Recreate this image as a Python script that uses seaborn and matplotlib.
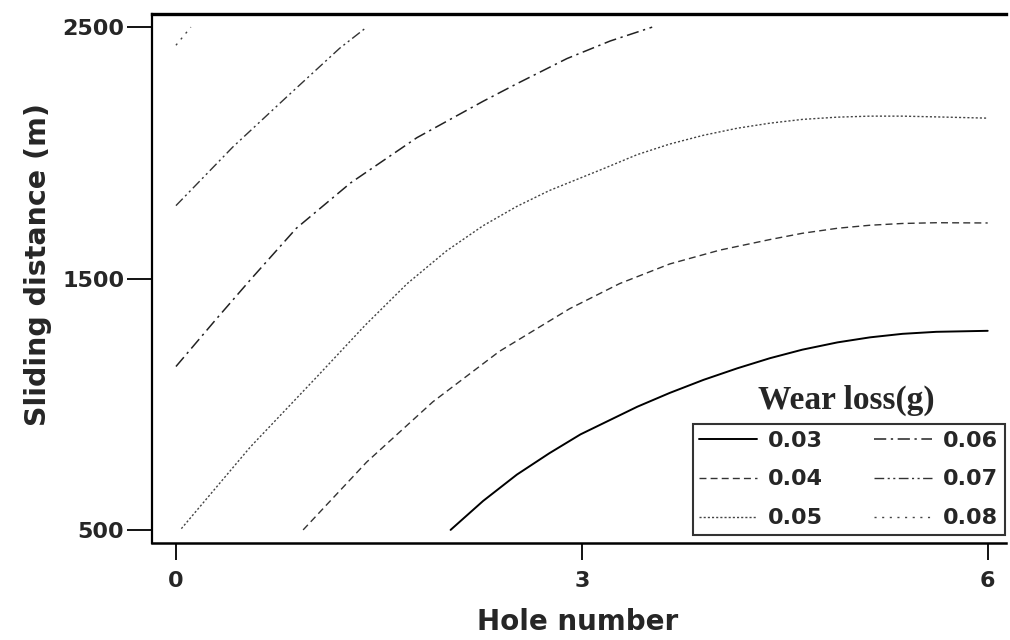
import matplotlib
matplotlib.use("Agg")
import matplotlib.pyplot as plt
import numpy as np
import pandas as pd
import seaborn as sns

# ---- data (contours of wear loss) ----
levels = ["0.03", "0.04", "0.05", "0.06", "0.07", "0.08"]

hole_003 = [2.03, 2.27, 2.52, 2.76, 2.99, 3.41, 3.65, 3.90, 4.15, 4.39, 4.63, 4.89, 5.13, 5.37, 5.62, 6.00]
dist_003 = [500, 615, 720, 805, 880, 990, 1045, 1097, 1143, 1183, 1217, 1246, 1266, 1280, 1288, 1292]

hole_004 = [0.94, 1.41, 1.90, 2.39, 2.91, 3.28, 3.65, 4.02, 4.39, 4.63, 4.89, 5.13, 5.37, 5.62, 6.00]
dist_004 = [500, 770, 1010, 1210, 1380, 1480, 1558, 1613, 1655, 1680, 1700, 1712, 1719, 1722, 1721]

hole_005 = [0.04, 0.55, 1.04, 1.40, 1.71, 2.00, 2.27, 2.52, 2.76, 2.99, 3.16, 3.41, 3.65, 3.90, 4.15,
            4.39, 4.63, 4.89, 5.13, 5.37, 5.62, 6.00]
dist_005 = [505, 830, 1108, 1315, 1480, 1610, 1710, 1787, 1850, 1900, 1937, 1993, 2035, 2070, 2098,
            2118, 2133, 2142, 2146, 2146, 2143, 2138]

hole_006 = [0.00, 0.30, 0.55, 0.89, 1.29, 1.78, 2.27, 2.52, 2.89, 3.21, 3.52]
dist_006 = [1150, 1340, 1495, 1700, 1880, 2060, 2205, 2275, 2375, 2445, 2500]

hole_007 = [0.00, 0.42, 0.84, 1.21, 1.41]
dist_007 = [1790, 2023, 2233, 2416, 2500]

hole_008 = [0.00, 0.11]
dist_008 = [2428, 2500]

x_ticks = [0, 3, 6]
y_ticks = [500, 1500, 2500]

# ---- styling ----
sns.set_style("white")
plt.rcParams["font.family"] = ["DejaVu Sans"]

styles = {
    "0.03": dict(linestyle="-", color="black", linewidth=1.4),
    "0.04": dict(linestyle=(0, (5, 3)), color="#333333", linewidth=1.0),
    "0.05": dict(linestyle=(0, (1.5, 1.5)), color="#444444", linewidth=1.0),
    "0.06": dict(linestyle=(0, (8, 3, 1.5, 3)), color="#222222", linewidth=1.1),
    "0.07": dict(linestyle=(0, (7, 2.5, 1.5, 2.5, 1.5, 2.5)), color="#333333", linewidth=1.0),
    "0.08": dict(linestyle=(0, (1.5, 4)), color="#444444", linewidth=1.0),
}

series = {
    "0.03": (hole_003, dist_003),
    "0.04": (hole_004, dist_004),
    "0.05": (hole_005, dist_005),
    "0.06": (hole_006, dist_006),
    "0.07": (hole_007, dist_007),
    "0.08": (hole_008, dist_008),
}

fig = plt.figure(figsize=(10.1, 6.4), dpi=100)
ax = fig.add_axes([0.1505, 0.1516, 0.8455, 0.8264])

for lvl in levels:
    hx, dy = series[lvl]
    df = pd.DataFrame({"Hole number": hx, "Sliding distance (m)": dy})
    sns.lineplot(data=df, x="Hole number", y="Sliding distance (m)", ax=ax,
                 label=lvl, sort=False, estimator=None, **styles[lvl])

ax.set_xlim(-0.177, 6.135)
ax.set_ylim(448, 2552)
ax.set_xticks(x_ticks)
ax.set_yticks(y_ticks)
ax.set_xticklabels([str(v) for v in x_ticks], fontsize=16, fontweight="bold")
ax.set_yticklabels([str(v) for v in y_ticks], fontsize=16, fontweight="bold")
ax.tick_params(axis="y", direction="out", length=18, width=1.3, pad=2, color="black", left=True)
ax.tick_params(axis="x", direction="out", length=12, width=1.3, pad=8, color="black", bottom=True)

for side in ["left", "bottom", "top"]:
    ax.spines[side].set_visible(True)
    ax.spines[side].set_color("black")
ax.spines["left"].set_linewidth(1.6)
ax.spines["bottom"].set_linewidth(1.8)
ax.spines["top"].set_linewidth(2.4)
ax.spines["right"].set_visible(False)

ax.set_xlabel("Hole number", fontsize=20, fontweight="bold")
ax.set_ylabel("Sliding distance (m)", fontsize=20.5, fontweight="bold")
ax.xaxis.set_label_coords(0.498, -0.123)
ax.yaxis.set_label_coords(-0.117, 0.527)

handles, labels = ax.get_legend_handles_labels()
leg = ax.legend(handles, labels, ncol=2, loc="lower right", bbox_to_anchor=(0.999, 0.015),
                borderaxespad=0, frameon=True, fancybox=False, edgecolor="black",
                prop={"size": 16, "weight": "bold"}, handlelength=2.6, handletextpad=0.5,
                columnspacing=2.3, labelspacing=0.85, borderpad=0.3)
leg.get_frame().set_linewidth(1.5)

ax.text(0.8126, 0.2700, "Wear loss(g)", transform=ax.transAxes, ha="center", va="center",
        fontsize=24, fontweight="bold", family=["Liberation Serif", "DejaVu Serif"])

fig.savefig("out.png", dpi=100)
